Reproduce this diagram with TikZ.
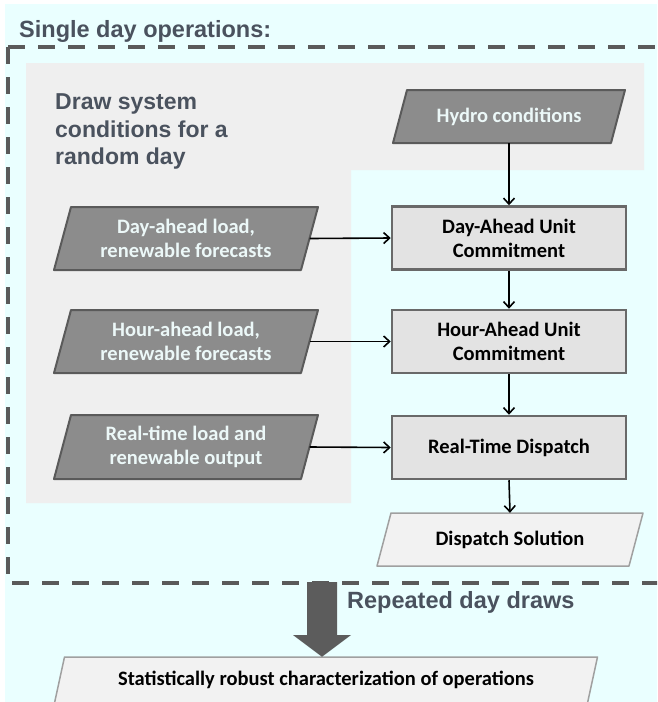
\documentclass[tikz,border=0pt]{standalone}
\usepackage{fontspec}
\setmainfont{Liberation Sans}
\newfontfamily\calfont{Carlito}
\usetikzlibrary{arrows.meta}
\definecolor{bgc}{RGB}{234,255,255}
\definecolor{regc}{RGB}{239,239,239}
\definecolor{darkp}{RGB}{140,140,140}
\definecolor{darkb}{RGB}{90,90,90}
\definecolor{boxf}{RGB}{227,227,227}
\definecolor{boxb}{RGB}{105,105,105}
\definecolor{lightf}{RGB}{242,242,242}
\definecolor{lightb}{RGB}{160,160,160}
\definecolor{headc}{RGB}{74,82,94}
\definecolor{ptextc}{RGB}{236,248,248}
\definecolor{blockc}{RGB}{92,92,92}
\newcommand\pgm[8]{%
  \path[#7] (#2-#4/2+#6/2,#3-#5/2) -- (#2+#4/2+#6/2,#3-#5/2) -- (#2+#4/2-#6/2,#3+#5/2) -- (#2-#4/2-#6/2,#3+#5/2) -- cycle;
  \node[ptext,minimum width=#4,minimum height=#5] (#1) at (#2,#3) {#8};}
\tikzset{
  darkpg/.style={fill=darkp,draw=darkb,line width=2pt,line join=round},
  lightpg/.style={fill=lightf,draw=lightb,line width=1.5pt,line join=round},
  ptext/.style={draw=none,inner sep=0pt,align=center,font=\calfont\bfseries\fontsize{20.5}{24}\selectfont,text=ptextc},
  ucbox/.style={rectangle,fill=boxf,draw=boxb,line width=2.5pt,minimum width=234pt,minimum height=63pt,inner sep=0pt,align=center,font=\calfont\bfseries\fontsize{20.5}{24}\selectfont,text=black},
  conn/.style={draw=black,line width=1.6pt,-{Straight Barb[length=6pt,width=11pt,line width=1.6pt]}},
  dashbox/.style={draw=darkb,line width=4pt,dash pattern=on 17pt off 13pt},
  heading/.style={text=headc,font=\bfseries\fontsize{23.5}{28}\selectfont,inner sep=0pt,align=left}
}
\begin{document}
\begin{tikzpicture}[x=1pt,y=-1pt]
\useasboundingbox (0,0) rectangle (657,702);
\fill[bgc] (5,3.5) rectangle (657,702);
\begin{scope}
  \clip (0,0) rectangle (657,702);
  \draw[dashbox] (8,47) -- (8,583) -- (680,583) (8,47) -- (680,47);
\end{scope}
\fill[regc] (26,63) -- (644,63) -- (644,170) -- (351,170) -- (351,503) -- (26,503) -- cycle;
\node[heading,anchor=base west] (title) at (19,37) {Single day operations:};
\node[heading,anchor=north west,font=\bfseries\fontsize{23}{27.5}\selectfont] (drawtxt) at (55,93.75) {Draw system\\conditions for a\\random day};
\pgm{hyd}{509}{116.5}{218}{53}{14}{darkpg}{Hydro conditions}
\pgm{dap}{186}{238.5}{247}{63}{17}{darkpg}{Day-ahead load,\\renewable forecasts}
\pgm{hap}{186}{341.5}{247}{63}{17}{darkpg}{Hour-ahead load,\\renewable forecasts}
\pgm{rtp}{186}{447}{247}{64}{17}{darkpg}{Real-time load and\\renewable output}
\node[ucbox] (dab) at (509,238) {Day-Ahead Unit\\Commitment};
\node[ucbox] (hab) at (509,341.5) {Hour-Ahead Unit\\Commitment};
\node[ucbox] (rtb) at (509,447.5) {Real-Time Dispatch};
\pgm{dis}{510}{539.5}{252}{53}{14}{lightpg}{\textcolor{black}{Dispatch Solution}}
\pgm{stat}{326}{680}{533}{46}{10}{lightpg}{\textcolor{black}{Statistically robust characterization of operations}}
\draw[conn] (hyd.south) -- (dab.north);
\draw[conn] (dap.east) -- (dab.west);
\draw[conn] (hap.east) -- (hab.west);
\draw[conn] (rtp.east) -- (rtb.west);
\draw[conn] (dab.south) -- (hab.north);
\draw[conn] (hab.south) -- (rtb.north);
\draw[conn] (rtb.south) -- (dis.north);
\coordinate (tip) at (stat.north -| 322,0);
\fill[blockc] (307,582) -- (337,582) -- (337,635) -- (351,635) -- (tip) -- (293,635) -- (307,635) -- cycle;
\node[heading,anchor=base west] (rep) at (347,608) {Repeated day draws};
\end{tikzpicture}
\end{document}
